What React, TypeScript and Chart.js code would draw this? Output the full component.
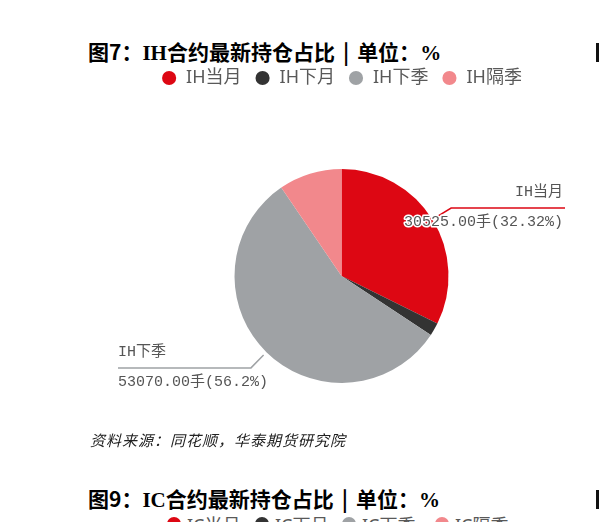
import React, { useEffect, useRef } from "react";
import { Chart, registerables } from "chart.js";

Chart.register(...registerables);

const categories = ["IH当月", "IH下月", "IH下季", "IH隔季"];
const holdings = [30525, 1850, 53070, 8991];
const colors = ["#dd0713", "#333333", "#9fa2a5", "#f2888c"];
const labeledIndices = [0, 2];

const nextCategories = ["IC当月", "IC下月", "IC下季", "IC隔季"];

const SANS = '"Noto Sans CJK SC", "Noto Sans", sans-serif';
const SERIF = '"Liberation Serif", "Noto Sans CJK SC", serif';
const LABEL_FONT = '15px "Liberation Mono", "Noto Sans CJK SC", monospace';
const LEGEND_FAMILY = '"Noto Sans", "Noto Sans CJK SC", sans-serif';

const sliceLabelPlugin = {
  id: "sliceLabels",
  afterDatasetsDraw(chart: any) {
    const ctx = chart.ctx as CanvasRenderingContext2D;
    const meta = chart.getDatasetMeta(0);
    const area = chart.chartArea;
    const data = chart.data.datasets[0].data as number[];
    const total = data.reduce((a, b) => a + b, 0);
    labeledIndices.forEach((i) => {
      const arc = meta.data[i];
      const { x, y, startAngle, endAngle, outerRadius } = arc.getProps(
        ["x", "y", "startAngle", "endAngle", "outerRadius"],
        true
      );
      const mid = (startAngle + endAngle) / 2;
      const c = Math.cos(mid);
      const s = Math.sin(mid);
      const x0 = x + c * (outerRadius + 4);
      const y0 = y + s * (outerRadius + 4);
      const x1 = x + c * (outerRadius + 22);
      const y1 = y + s * (outerRadius + 22);
      const right = c >= 0;
      const edgeX = right ? area.right - 34 : area.left + 34;
      const bg = chart.data.datasets[0].backgroundColor[i];
      ctx.save();
      ctx.strokeStyle = bg;
      ctx.lineWidth = 1.5;
      ctx.beginPath();
      ctx.moveTo(x0, y0);
      ctx.lineTo(x1, y1);
      ctx.lineTo(edgeX, y1);
      ctx.stroke();

      const pct = +((data[i] / total) * 100).toFixed(2);
      const valueText = `${data[i].toFixed(2)}手(${pct}%)`;
      const nameText = chart.data.labels[i];
      ctx.font = LABEL_FONT;
      ctx.textBaseline = "middle";
      ctx.textAlign = right ? "right" : "left";
      const tx = right ? edgeX - 2 : edgeX;
      ctx.lineJoin = "round";
      ctx.strokeStyle = "#ffffff";
      ctx.lineWidth = 3;
      ctx.fillStyle = "#555555";
      ctx.strokeText(nameText, tx, y1 - 15.5);
      ctx.fillText(nameText, tx, y1 - 15.5);
      ctx.strokeText(valueText, tx, y1 + 14.5);
      ctx.fillText(valueText, tx, y1 + 14.5);
      ctx.restore();
    });
  },
};

function PieChart() {
  const ref = useRef<HTMLCanvasElement | null>(null);
  useEffect(() => {
    if (!ref.current) return;
    const chart = new Chart(ref.current, {
      type: "pie",
      data: {
        labels: categories,
        datasets: [
          {
            data: holdings,
            backgroundColor: colors,
            borderWidth: 0,
            radius: 107,
          },
        ],
      },
      options: {
        responsive: false,
        animation: false,
        layout: { padding: { left: 84, right: 0, top: 0, bottom: 0 } },
        plugins: {
          tooltip: { enabled: false },
          legend: {
            position: "top",
            labels: {
              usePointStyle: true,
              pointStyle: "circle",
              boxWidth: 16,
              boxHeight: 10,
              padding: 13,
              color: "#595959",
              font: { size: 18, family: LEGEND_FAMILY },
            },
          },
        },
      },
      plugins: [sliceLabelPlugin],
    });
    return () => chart.destroy();
  }, []);
  return (
    <canvas
      ref={ref}
      width={599}
      height={399}
      style={{ position: "absolute", left: 0, top: 56, width: 599, height: 399 }}
    />
  );
}

function Title({ code, top }: { code: string; top: number }) {
  const [a, b] = code === "IH" ? ["7", "IH"] : ["9", "IC"];
  return (
    <div
      style={{
        position: "absolute",
        left: 88,
        top,
        fontSize: 21,
        lineHeight: "21px",
        fontWeight: "bold",
        whiteSpace: "nowrap",
        color: "#000",
      }}
    >
      <span style={{ fontFamily: SANS }}>图{a}：</span>
      <span style={{ fontFamily: SERIF }}>{b}</span>
      <span style={{ fontFamily: SANS }}>合约最新持仓占比</span>
      <span style={{ fontFamily: SANS, margin: "0 8px" }}>|</span>
      <span style={{ fontFamily: SANS }}>单位：</span>
      <span style={{ fontFamily: SERIF }}>%</span>
    </div>
  );
}

export default function App() {
  const nextX = [174, 262, 349, 442];
  return (
    <div
      style={{
        position: "fixed",
        left: 0,
        top: 0,
        width: 599,
        height: 522,
        overflow: "hidden",
        background: "#ffffff",
      }}
    >
      <Title code="IH" top={41} />
      <div style={{ position: "absolute", left: 596, top: 43, width: 3, height: 19, background: "#111" }} />
      <PieChart />
      <div
        style={{
          position: "absolute",
          left: 90,
          top: 431,
          fontSize: 15,
          lineHeight: "18px",
          letterSpacing: 1,
          fontStyle: "italic",
          fontFamily: SANS,
          color: "#222",
          whiteSpace: "nowrap",
        }}
      >
        资料来源：同花顺，华泰期货研究院
      </div>
      <Title code="IC" top={488} />
      <div style={{ position: "absolute", left: 596, top: 490, width: 3, height: 19, background: "#111" }} />
      {nextCategories.map((c, i) => (
        <div key={c}>
          <div
            style={{
              position: "absolute",
              left: nextX[i] - 7,
              top: 517,
              width: 14,
              height: 14,
              borderRadius: 7,
              background: colors[i],
            }}
          />
          <div
            style={{
              position: "absolute",
              left: nextX[i] + 13,
              top: 513,
              fontSize: 18,
              lineHeight: "24px",
              fontFamily: LEGEND_FAMILY,
              color: "#595959",
              whiteSpace: "nowrap",
            }}
          >
            {c}
          </div>
        </div>
      ))}
    </div>
  );
}
